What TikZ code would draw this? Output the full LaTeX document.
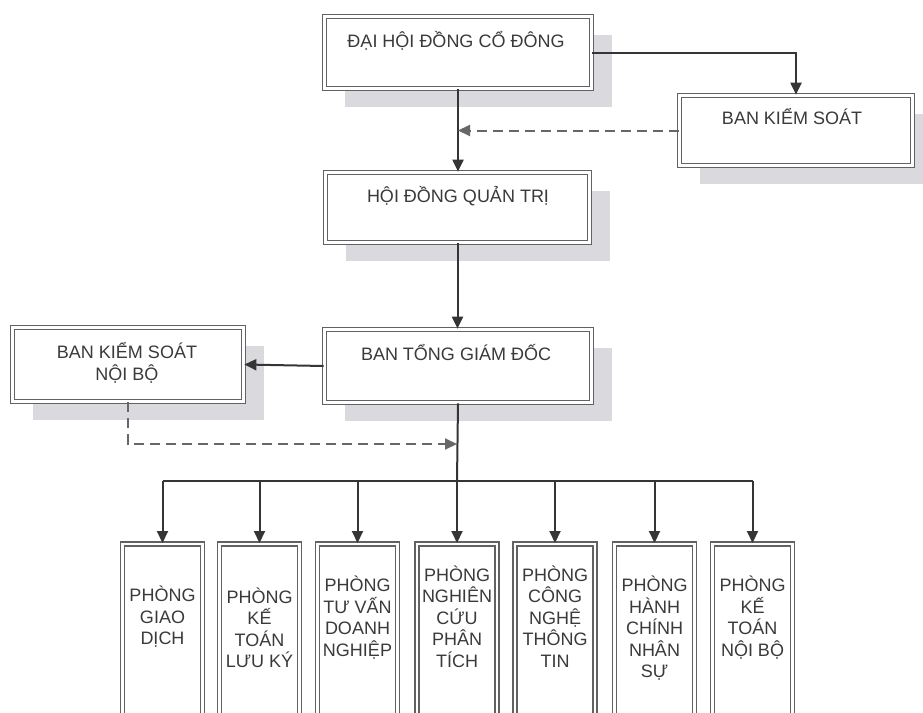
\documentclass[tikz,border=0pt]{standalone}
\usepackage{fontspec}
\setmainfont{Liberation Sans}
\usetikzlibrary{arrows.meta,shadows}
\definecolor{linec}{HTML}{353535}
\definecolor{boxc}{HTML}{626262}
\definecolor{shadowc}{HTML}{D9D9DE}
\definecolor{textc}{HTML}{3A3A3A}
\tikzset{
  box/.style={draw=boxc, line width=1.7pt, double=white, double distance=2.4pt, fill=white, inner sep=0pt},
  topbox/.style={box, drop shadow={shadow xshift=20pt, shadow yshift=-18pt, fill=shadowc, opacity=1}},
  txt/.style={text=textc, font=\fontsize{18}{21.5}\selectfont, align=center, inner sep=0pt},
  arr/.style={draw=linec, line width=2pt, -{Triangle[length=12pt,width=11pt]}},
  plain/.style={draw=linec, line width=2pt},
  dasharr/.style={draw=linec!75, line width=2pt, dash pattern=on 10pt off 6pt, -{Triangle[length=12pt,width=11pt]}}
}
\begin{document}
\begin{tikzpicture}[x=1pt,y=-1pt]
\fill[white] (0,0) rectangle (923,712);
\useasboundingbox (0,0) rectangle (923,712);
\clip (0,0) rectangle (923,712);
% top boxes
\node[topbox, minimum width=267pt, minimum height=72pt] (dhdcd) at (458,52.5) {};
\node[topbox, minimum width=233pt, minimum height=70pt] (bks) at (796,130.5) {};
\node[topbox, minimum width=264pt, minimum height=70pt] (hdqt) at (457.5,207.5) {};
\node[topbox, minimum width=267pt, minimum height=73pt] (btgd) at (458,366) {};
\node[topbox, minimum width=231pt, minimum height=74pt] (bksnb) at (128,364.5) {};
\node[txt] (dhdcd-t) at (456,41) {ĐẠI HỘI ĐỒNG CỔ ĐÔNG};
\node[txt] (bks-t) at (792,117) {BAN KIỂM SOÁT};
\node[txt] (hdqt-t) at (458,196) {HỘI ĐỒNG QUẢN TRỊ};
\node[txt] (btgd-t) at (456,353) {BAN TỔNG GIÁM ĐỐC};
\node[txt] (bksnb-t) at (127,363) {BAN KIỂM SOÁT\\NỘI BỘ};
% bottom boxes
\foreach \i/\x in {1/162.5,2/259.5,3/357.5,4/457,5/555,6/654.5,7/752.5}{
  \node[box, minimum width=80pt, minimum height=200pt, anchor=north] (p\i) at (\x,543) {};
}
\node[txt] (p1-t) at (162.5,617) {PHÒNG\\GIAO\\DỊCH};
\node[txt] (p2-t) at (259.5,628) {PHÒNG\\KẾ\\TOÁN\\LƯU KÝ};
\node[txt] (p3-t) at (357.5,617.5) {PHÒNG\\TƯ VẤN\\DOANH\\NGHIỆP};
\node[txt] (p4-t) at (457,616.5) {PHÒNG\\NGHIÊN\\CỨU\\PHÂN\\TÍCH};
\node[txt] (p5-t) at (555,616.5) {PHÒNG\\CÔNG\\NGHỆ\\THÔNG\\TIN};
\node[txt] (p6-t) at (654.5,628.5) {PHÒNG\\HÀNH\\CHÍNH\\NHÂN\\SỰ};
\node[txt] (p7-t) at (752.5,617.5) {PHÒNG\\KẾ\\TOÁN\\NỘI BỘ};
% connectors
\draw[arr] (dhdcd.east) -| (bks.north);
\draw[arr] (dhdcd.south) -- (dhdcd.south |- hdqt.north);
\draw[dasharr] (bks.west) -- (bks.west -| dhdcd.south);
\draw[arr] (hdqt.south) -- (hdqt.south |- btgd.north);
\draw[arr] (btgd.west) -- (bksnb.east);
\coordinate (bus) at (457,481);
\coordinate (dj) at (457,444);
\draw[plain] (btgd.south) -- (bus);
\draw[dasharr] (bksnb.south) |- (dj);
\draw[plain] (p1.north |- bus) -- (p7.north |- bus);
\foreach \i in {1,...,7}{
  \draw[arr] (p\i.north |- bus) -- (p\i.north);
}
\end{tikzpicture}
\end{document}
